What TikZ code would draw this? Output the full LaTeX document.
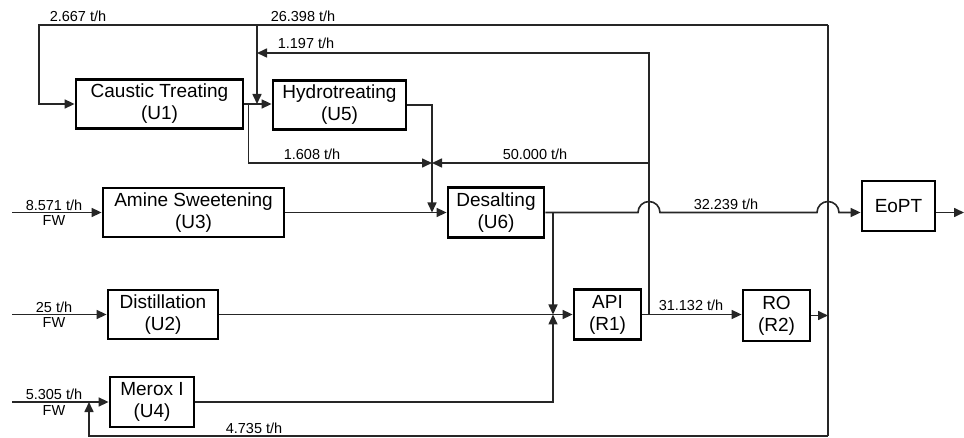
\documentclass[tikz,border=0pt]{standalone}
\usepackage{fontspec}
\setmainfont{Liberation Sans}
\usetikzlibrary{arrows.meta,positioning,calc}

\begin{document}
\begin{tikzpicture}[x=1pt,y=-1pt,
  unit/.style={draw, line width=2.8pt, align=center, inner sep=0pt, font=\fontsize{19}{22}\selectfont},
  flow/.style={line width=1.6pt, black!85},
  arr/.style={flow, -{Triangle[length=10pt,width=9pt]}},
  lbl/.style={font=\fontsize{14.5}{15}\selectfont, inner sep=0pt}]
\useasboundingbox (0,0) rectangle (964,438);
% Process units
\node[unit, minimum width=167pt, minimum height=49pt] (u1) at (159.5,104) {Caustic Treating\\(U1)};
\node[unit, minimum width=133pt, minimum height=49pt] (u5) at (339.5,105) {Hydrotreating\\(U5)};
\node[unit, minimum width=181pt, minimum height=49pt] (u3) at (193.5,212.5) {Amine Sweetening\\(U3)};
\node[unit, minimum width=96pt, minimum height=50pt] (u6) at (496,212.5) {Desalting\\(U6)};
\node[unit, minimum width=110pt, minimum height=49pt] (u2) at (163,314.5) {Distillation\\(U2)};
\node[unit, minimum width=84pt, minimum height=50pt] (u4) at (152,402) {Merox I\\(U4)};
% Regeneration units and end of pipe
\node[unit, minimum width=67pt, minimum height=50pt] (r1) at (607.5,314.5) {API\\(R1)};
\node[unit, minimum width=67pt, minimum height=51pt] (r2) at (776.5,315.5) {RO\\(R2)};
\node[unit, minimum width=73pt, minimum height=50pt] (eopt) at (898.5,206) {EoPT};
% Fresh water feeds
\foreach \n/\y/\q in {u3/212.5/8.571,u2/314.5/25,u4/402/5.305} {
  \coordinate (fw\n) at (12,\y);
  \draw[arr] (fw\n) -- (fw\n -| \n.west);
  \node[lbl, above] (q\n) at (54,\y-2) {\q\ t/h};
  \node[lbl, below] (f\n) at (54,\y+3) {FW};
}
% Collector after RO and recycle lines
\coordinate (cTR) at (828,25);
\coordinate (cBR) at (828,436);
\coordinate (cBL) at (89,436);
\coordinate (cTL) at (39,25);
\coordinate (jH) at (257,25);
\draw[arr] (r2.east) -- (r2.east -| cTR);
\draw[flow] (cBR) -- (cTR);
\draw[arr] (cTR) -- (cTL) -- (cTL |- u1.west) -- (u1.west);
\draw[arr] (jH) -- (jH |- u1.east);
\draw[arr] (cBR) -- (cBL) -- (cBL |- fwu4);
% Caustic treating and hydrotreating
\coordinate (jA) at ($(u1.east)+(4,0)$);
\coordinate (jM) at (432,163);
\draw[arr] (u1.east) -- (u1.east -| u5.west);
\draw[arr] (jA) -- (jA |- jM) -- (jM);
\draw[arr] (u5.east) -- (u5.east -| jM) -- (jM |- u6.west);
\draw[arr] (u3.east) -- (u6.west);
% API effluent recycle
\coordinate (jR) at (649,314.5);
\coordinate (jS) at (649,163);
\coordinate (jT) at (649,53);
\draw[arr] (jR) -- (jT) -- (jT -| jH);
\draw[arr] (jS) -- (jM);
% Desalting outlet with line jumps
\coordinate (jD) at (553,212.5);
\coordinate (jP) at (553,314.5);
\coordinate (out) at (964,212.5);
\draw[arr] (u6.east) -- (638,212.5) arc[start angle=180, end angle=0, radius=11pt]
  -- (817,212.5) arc[start angle=180, end angle=0, radius=11pt] -- (u6.east -| eopt.west);
\draw[arr] (eopt.east |- out) -- (out);
\draw[arr] (jD) -- (jP);
\draw[arr] (u4.east) -- (u4.east -| jP) -- (jP);
\draw[arr] (u2.east) -- (r1.west);
\draw[arr] (r1.east) -- (r1.east -| r2.west);
% Flow rates
\node[lbl] (m1) at (78,16) {2.667 t/h};
\node[lbl] (m2) at (303,16) {26.398 t/h};
\node[lbl] (m3) at (306,43) {1.197 t/h};
\node[lbl] (m4) at (312,154) {1.608 t/h};
\node[lbl] (m5) at (535,154) {50.000 t/h};
\node[lbl] (m6) at (726,204) {32.239 t/h};
\node[lbl] (m7) at (691,305) {31.132 t/h};
\node[lbl] (m8) at (254,428) {4.735 t/h};
\end{tikzpicture}
\end{document}
